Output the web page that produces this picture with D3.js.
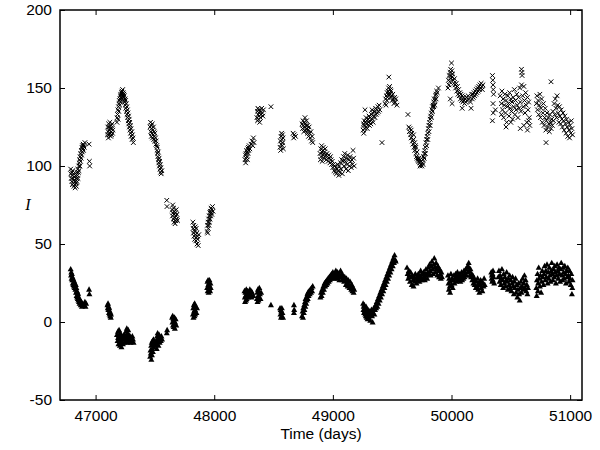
<!DOCTYPE html>
<html><head><meta charset="utf-8">
<script src="https://cdn.jsdelivr.net/npm/d3@7"></script>
<style>body{margin:0;background:#fff}svg{display:block}</style>
</head><body>
<svg id="c" width="600" height="450"></svg>
<script>
const xTicks = [47000, 48000, 49000, 50000, 51000];
const yTicks = [-50, 0, 50, 100, 150, 200];
const xLabel = "Time (days)";
const yLabel = "I";

const crosses = [
[46790,98],[46792,95],[46795,92],[46798,96],[46800,90],[46803,94],[46805,88],[46808,97],[46810,92],[46812,89],[46815,95],[46818,87],[46820,91],[46822,93],[46825,88],[46828,86],[46830,90],[46832,94],[46835,89],[46838,87],[46840,92],[46842,96],[46845,90],[46848,94],[46850,98],[46852,92],[46855,96],[46858,100],[46860,97],[46862,102],
[46865,104],[46868,100],[46870,106],[46873,103],[46875,108],[46878,105],[46880,110],[46882,107],[46885,112],[46888,109],[46890,113],[46893,111],[46895,114],[46898,110],[46900,113],[46905,112],[46910,115],
[46945,114],[46948,103],[46950,100],
[47100,120],[47103,125],[47105,122],[47108,118],[47110,127],[47112,123],[47115,120],[47118,125],[47120,128],[47122,121],[47125,124],[47128,119],[47130,126],[47133,122],[47135,120],[47138,124],[47140,127],[47143,121],[47145,123],
[47180,128],[47182,131],[47185,133],[47188,136],[47190,130],[47193,138],[47195,135],[47198,140],[47200,142],[47203,139],[47205,143],[47208,145],[47210,141],[47212,146],[47215,144],[47218,147],[47220,143],[47222,148],[47225,146],[47228,149],[47230,145],[47232,147],[47235,144],[47238,146],[47240,142],[47243,145],[47245,141],[47248,143],[47250,139],[47253,142],[47255,137],[47258,140],[47260,135],[47263,138],[47265,133],[47268,136],[47270,131],[47273,134],[47275,129],[47278,132],[47280,127],[47283,130],[47285,125],[47288,128],[47290,123],[47293,126],[47295,121],[47298,124],[47300,119],[47305,122],[47308,117],[47310,120],[47315,118],[47318,115],
[47460,125],[47463,128],[47465,122],[47468,126],[47470,119],[47472,124],[47475,121],[47478,127],[47480,118],[47482,123],[47485,120],[47488,125],[47490,117],[47493,122],[47495,119],[47498,116],[47500,121],[47505,118],[47508,114],[47510,116],
[47515,113],[47518,110],[47520,112],[47523,108],[47525,106],[47528,109],[47530,104],[47533,102],[47535,105],[47538,100],[47540,103],[47543,98],[47545,101],[47548,96],[47550,99],[47553,95],[47558,97],
[47600,78],[47602,74],
[47645,72],[47648,68],[47650,75],[47652,70],[47655,66],[47658,73],[47660,69],[47662,64],[47665,71],[47668,67],[47670,63],[47673,70],[47675,65],[47678,68],[47680,72],[47683,66],[47685,69],[47690,65],
[47820,64],[47823,60],[47825,57],[47828,62],[47830,55],[47833,59],[47835,53],[47838,58],[47840,61],[47843,56],[47845,52],[47848,60],[47850,54],[47853,57],[47855,50],[47858,55],[47860,53],[47865,49],[47870,56],
[47940,58],[47943,62],[47945,57],[47948,64],[47950,60],[47953,66],[47955,62],[47958,68],[47960,64],[47963,70],[47965,66],[47968,71],[47970,68],[47973,73],[47975,70],[47978,72],[47980,69],[47985,74],[47990,71],
[48260,104],[48263,107],[48265,102],[48268,108],[48270,105],[48273,110],[48275,106],[48278,109],[48280,104],[48283,111],[48285,108],[48288,112],[48290,110],[48295,113],[48300,111],[48310,114],[48320,116],[48325,113],[48330,118],[48335,115],
[48360,131],[48363,135],[48365,129],[48368,137],[48370,133],[48373,130],[48375,136],[48378,132],[48380,134],[48383,128],[48385,135],[48390,131],[48395,133],[48400,137],[48405,134],[48410,132],[48415,136],
[48478,138],
[48555,112],[48558,116],[48560,110],[48563,119],[48565,114],[48568,121],[48570,117],[48573,113],[48575,120],[48578,115],[48580,118],[48583,111],
[48665,121],[48670,118],[48675,120],[48685,119],
[48740,127],[48745,124],[48748,129],[48750,126],[48755,122],[48758,128],[48760,125],[48765,131],[48768,127],[48770,123],[48775,126],[48778,129],[48780,124],[48785,121],[48788,126],[48790,123],[48795,119],[48800,125],[48805,121],[48810,118],[48815,122],[48820,116],[48825,119],[48830,115],
[48892,108],[48895,104],[48898,111],[48900,106],[48905,113],[48908,109],[48910,103],[48915,110],[48918,107],[48920,112],[48925,105],[48930,109],[48935,111],[48940,107],[48945,104],[48950,108],[48955,106],[48960,103],[48965,107],[48970,105],[48975,102],[48980,106],[48985,104],[48990,101],
[48995,103],[49000,99],[49005,101],[49010,97],[49015,100],[49020,96],[49025,99],[49030,95],[49035,98],[49040,101],[49045,97],[49050,94],[49055,100],[49060,96],[49065,102],[49070,98],[49075,104],[49080,95],
[49085,103],[49090,106],[49095,100],[49100,108],[49105,103],[49110,98],[49115,105],[49120,101],[49125,107],[49130,97],[49135,104],[49140,100],[49145,106],[49150,103],[49155,99],[49160,104],[49165,101],[49170,110],[49175,105],[49180,100],
[49255,123],[49258,127],[49260,121],[49263,126],[49265,129],[49270,124],[49275,128],[49278,125],[49280,131],[49285,127],[49290,124],[49295,130],[49300,128],[49305,132],[49308,126],[49310,129],[49315,131],[49320,127],[49325,133],[49330,130],[49335,134],[49340,128],[49345,132],[49350,135],[49355,131],[49360,137],[49365,133],[49370,136],[49375,134],[49380,138],[49385,135],[49390,139],[49395,136],
[49271,136],[49330,136],[49414,115],
[49440,140],[49445,143],[49448,139],[49450,145],[49455,142],[49458,147],[49460,144],[49465,148],[49468,146],[49470,150],[49472,157],[49475,147],[49478,151],[49480,146],[49485,149],[49488,144],[49490,148],[49495,145],[49500,142],[49505,146],[49510,143],[49515,140],[49520,144],[49525,141],[49530,143],[49540,139],
[49633,133],[49640,125],[49645,122],[49650,124],[49655,120],[49660,118],[49665,121],[49670,116],[49675,114],[49680,117],[49685,112],[49690,110],[49695,113],[49700,108],[49705,106],[49710,109],[49715,104],[49720,103],[49725,105],[49730,102],[49735,104],[49740,101],[49745,103],[49750,100],[49755,102],[49760,104],[49765,106],[49770,108],[49775,110],[49780,112],[49785,115],[49790,117],[49795,119],[49800,121],[49805,124],[49810,126],[49815,128],[49820,130],[49825,132],[49830,134],[49835,136],[49840,138],[49845,139],[49850,141],[49855,143],[49860,142],[49865,145],[49870,146],[49875,148],[49880,147],[49890,150],
[49660,123],[49690,115],[49710,105],[49735,100],[49770,105],[49790,113],[49810,122],[49830,131],[49850,138],[49870,143],[49800,117],[49820,126],[49840,135],[49860,139],[49780,108],[49760,101],[49700,112],[49680,120],
[49970,150],[49975,155],[49978,152],[49980,158],[49985,154],[49988,160],[49990,156],[49993,162],[49995,158],[50000,166],[50003,161],[50005,157],[50010,159],[50015,155],[50020,153],[50025,156],[49990,143],[50005,140],
[50030,152],[50035,150],[50040,153],[50045,148],[50050,151],[50055,146],[50060,149],[50065,145],[50070,147],[50075,143],[50080,146],[50085,142],[50090,145],[50095,141],[50100,144],[50105,142],[50110,140],[50115,143],[50120,141],[50125,144],[50130,142],[50140,145],[50150,143],[50160,141],[50170,146],
[50090,137],[50165,137],
[50175,143],[50180,146],[50185,144],[50190,147],[50195,145],[50200,148],[50205,146],[50210,149],[50215,147],[50220,150],[50225,148],[50230,151],[50235,149],[50240,152],[50245,150],[50250,153],[50255,151],[50260,149],[50265,152],
[50345,158],[50348,155],[50350,152],[50352,149],[50355,146],[50350,140],[50352,134],[50345,129],[50370,136],
[50410,145],[50420,140],[50425,148],[50430,136],[50435,143],[50440,131],[50445,139],[50450,146],[50455,134],[50460,142],[50465,128],[50470,138],[50475,145],[50480,140],[50485,132],[50490,147],[50495,137],[50500,143],[50505,135],[50510,141],[50515,130],[50520,144],[50525,138],[50530,149],[50535,133],[50540,142],[50545,136],[50550,146],[50555,139],[50560,131],[50565,144],[50570,137],[50575,150],[50580,141],[50585,135],[50590,152],[50590,162],[50595,158],[50593,160],[50600,145],[50605,138],[50610,151],[50615,142],[50620,134],[50625,147],[50630,139],[50635,128],[50640,144],[50645,136],[50650,141],[50655,131],[50660,126],[50580,124],[50460,125],
[50610,126],[50640,123],[50500,128],[50420,133],[50650,129],
[50715,140],[50720,145],[50725,136],[50730,142],[50735,133],[50740,139],[50745,146],[50750,131],[50755,137],[50760,143],[50765,128],[50770,134],[50775,140],[50780,126],[50785,131],[50790,137],[50795,123],[50797,115],[50800,129],[50805,134],[50810,125],[50815,131],[50820,127],[50825,122],[50830,133],[50835,128],[50839,154],[50840,124],[50845,130],[50850,126],[50855,135],[50860,129],[50865,140],[50870,133],[50875,143],[50880,137],[50885,131],[50890,145],[50895,139],[50900,134],[50905,128],[50910,138],[50915,132],[50920,127],[50925,136],[50930,130],[50935,125],[50940,134],[50945,129],[50950,123],[50955,132],[50960,127],[50965,121],[50970,130],[50975,125],[50980,119],[50985,128],[50990,123],[50995,118],[51000,126],[51005,121],[51010,129],[51015,124],[51020,120]
];

const triangles = [
[46790,34],[46793,30],[46795,32],[46798,28],[46800,31],[46803,27],[46805,29],[46808,25],[46810,28],[46813,24],[46815,27],[46818,23],[46820,26],[46823,22],[46825,25],
[46830,21],[46833,24],[46835,19],[46838,22],[46840,17],[46843,20],[46845,16],[46848,19],[46850,15],[46853,18],[46855,14],[46858,16],[46860,13],[46863,15],[46865,12],[46870,14],[46875,11],[46880,13],[46885,10],[46890,12],[46900,11],[46910,13],[46915,10],[46920,12],
[46945,21],[46948,18],
[47100,11],[47103,9],[47105,12],[47108,8],[47110,10],[47113,6],[47115,9],[47118,5],[47120,7],[47123,4],[47125,6],[47128,3],[47130,5],
[47180,-8],[47185,-12],[47188,-6],[47190,-10],[47193,-14],[47195,-9],[47198,-5],[47200,-12],[47203,-8],[47205,-15],[47208,-11],[47210,-7],[47213,-13],[47215,-9],[47218,-16],[47220,-12],[47225,-10],[47230,-14],[47235,-11],[47240,-8],[47245,-13],[47250,-10],[47255,-6],[47258,-12],[47260,-9],[47263,-4],[47265,-11],[47268,-7],[47270,-13],[47273,-9],[47275,-5],[47278,-11],[47280,-8],[47285,-12],[47290,-9],[47295,-13],[47300,-10],[47305,-12],[47310,-9],[47315,-11],[47320,-13],
[47460,-22],[47463,-18],[47465,-20],[47468,-15],[47470,-24],[47473,-13],[47475,-21],[47478,-17],[47480,-12],[47483,-19],[47485,-14],[47488,-11],[47490,-16],[47495,-13],[47500,-15],[47510,-12],[47515,-17],[47518,-9],[47520,-14],[47523,-7],[47525,-12],[47528,-10],[47530,-15],[47535,-8],[47540,-13],[47545,-10],[47550,-12],[47555,-9],[47560,-11],
[47600,-7],[47603,-5],
[47645,3],[47648,0],[47650,4],[47653,-2],[47655,2],[47658,-3],[47660,1],[47663,-1],[47665,3],[47668,-4],[47670,0],[47675,2],[47680,-2],
[47820,5],[47823,9],[47825,3],[47828,11],[47830,7],[47833,4],[47835,12],[47838,8],[47840,5],[47845,10],[47850,6],[47855,9],
[47940,22],[47943,26],[47945,20],[47948,27],[47950,24],[47953,19],[47955,25],[47958,21],[47960,27],[47963,23],[47965,20],[47968,25],[47970,22],
[48255,20],[48258,16],[48260,13],[48263,19],[48265,17],[48268,14],[48270,21],[48273,15],[48275,18],[48280,20],[48285,16],[48290,19],[48295,17],[48300,21],[48305,18],[48310,20],[48315,16],[48320,19],[48330,17],[48360,15],[48363,19],[48365,13],[48368,21],[48370,17],[48373,14],[48375,20],[48378,16],[48380,22],[48385,18],[48390,15],[48395,19],
[48478,11],
[48555,9],[48558,5],[48560,8],[48563,3],[48565,7],[48568,4],[48570,9],[48575,6],[48580,3],
[48672,11],[48672,6],[48674,8],
[48740,4],[48745,7],[48748,3],[48750,9],[48755,6],[48758,11],[48760,8],[48765,13],[48768,10],[48770,15],[48775,12],[48778,16],[48780,14],[48785,18],[48788,15],[48790,19],[48795,17],[48800,20],[48805,18],[48810,21],[48815,19],[48820,22],[48825,20],[48830,23],
[48895,16],[48900,19],[48905,17],[48910,21],[48915,19],[48920,23],[48925,21],[48930,25],[48935,23],[48940,26],[48945,24],[48950,27],[48955,25],[48960,28],[48965,26],[48970,29],[48975,27],[48980,30],[48985,28],[48990,31],[48995,29],[49000,32],[49005,30],[49010,28],[49015,31],[49020,29],[49025,33],[49030,30],[49035,28],[49040,32],[49045,29],[49050,31],[49055,27],[49060,30],[49065,33],[49070,29],[49075,31],[49080,27],[49085,30],[49090,28],[49095,26],[49100,29],[49105,27],[49110,24],[49115,28],[49120,25],[49125,23],[49130,27],[49135,24],[49140,22],[49145,26],[49150,23],[49155,21],[49160,24],[49165,20],[49170,22],[49175,19],[49180,21],
[49255,12],[49258,8],[49260,10],[49263,6],[49265,11],[49268,7],[49270,9],[49273,5],[49275,8],[49278,4],[49280,10],[49283,6],[49285,3],[49288,7],[49290,5],[49293,2],[49295,8],[49298,4],[49300,6],[49305,3],[49310,7],[49315,1],[49320,5],[49325,8],[49330,4],[49335,0],[49340,6],[49345,9],[49350,5],
[49355,8],[49360,11],[49365,9],[49370,13],[49375,10],[49380,15],[49385,12],[49390,17],[49395,14],[49400,19],[49405,16],[49410,21],[49415,18],[49420,23],[49425,20],[49430,25],[49435,22],[49440,27],[49445,24],[49450,29],[49455,26],[49460,31],[49465,28],[49470,33],[49475,30],[49480,35],[49485,32],[49490,37],[49495,34],[49500,39],[49505,36],[49510,41],[49515,38],[49520,43],[49525,40],[49530,39],
[49625,35],[49630,31],[49635,28],[49640,33],[49645,30],[49650,26],[49655,32],[49660,29],[49665,24],[49670,30],[49675,27],[49680,23],[49685,29],[49690,26],[49695,31],[49700,28],[49705,25],[49710,29],[49715,27],[49720,31],[49725,28],[49730,26],[49735,30],[49740,33],[49745,29],[49750,27],[49755,31],[49760,28],[49765,32],[49770,29],[49775,27],[49780,31],[49785,34],[49790,30],[49795,28],[49800,32],[49805,35],[49810,31],[49815,37],[49820,33],[49825,30],[49830,36],[49835,39],[49840,34],[49845,31],[49850,37],[49855,41],[49860,35],[49865,32],[49870,38],[49875,34],[49880,30],[49885,36],[49890,33],[49895,29],[49900,34],[49905,31],[49910,28],[49915,32],[49920,29],
[49970,30],[49975,25],[49978,21],[49980,28],[49985,23],[49988,19],[49990,26],[49995,31],[50000,24],[50005,28],[50010,22],[50015,27],[50020,30],[50025,25],[50030,28],[50035,31],[50040,26],[50045,29],[50050,32],[50055,27],[50060,30],[50065,28],[50070,31],[50075,26],[50080,29],[50085,32],[50090,27],[50095,30],[50100,28],[50105,33],[50110,29],[50115,31],[50120,34],[50125,30],[50130,35],[50135,32],[50140,36],[50145,38],[50150,33],[50155,30],[50160,34],[50165,29],[50170,31],[50175,27],[50180,30],[50185,25],[50190,28],[50195,24],[50200,27],[50205,22],[50210,26],[50215,23],[50220,28],[50225,21],[50230,25],[50235,19],[50240,24],[50245,27],[50250,22],[50255,26],[50260,20],[50265,25],[50270,23],[50275,28],[50280,24],
[50335,32],[50338,28],[50340,30],[50343,26],[50345,31],[50348,27],[50350,33],[50355,29],[50360,25],
[50395,29],[50400,33],[50405,26],[50410,30],[50415,24],[50420,28],[50425,34],[50430,27],[50435,22],[50440,31],[50445,25],[50450,29],[50455,23],[50460,27],[50465,32],[50470,26],[50475,21],[50480,28],[50485,24],[50490,30],[50495,22],[50500,27],[50505,20],[50510,25],[50515,29],[50520,23],[50525,18],[50530,26],[50535,22],[50540,28],[50545,19],[50550,24],[50555,16],[50560,21],[50565,25],[50570,18],[50575,14],[50580,22],[50585,26],[50590,19],[50595,23],[50600,28],[50605,21],[50610,25],[50615,30],[50620,22],[50625,27],[50630,20],[50635,24],[50640,18],[50645,22],
[50715,22],[50718,17],[50720,27],[50725,31],[50728,20],[50730,25],[50735,35],[50740,28],[50745,23],[50750,30],[50755,19],[50760,26],[50765,33],[50770,29],[50775,24],[50780,31],[50785,36],[50790,27],[50795,33],[50800,29],[50805,37],[50810,25],[50815,32],[50820,28],[50825,35],[50830,30],[50835,26],[50840,33],[50845,38],[50850,31],[50855,27],[50860,34],[50865,29],[50870,36],[50875,32],[50880,25],[50885,30],[50890,37],[50895,33],[50900,28],[50905,35],[50910,31],[50915,26],[50920,34],[50925,38],[50930,30],[50935,27],[50940,35],[50945,32],[50950,28],[50955,36],[50960,31],[50965,25],[50970,33],[50975,29],[50980,35],[50985,30],[50990,26],[50995,33],[51000,28],[51005,24],[51010,31],[51015,18],[51018,22],[51020,27]
];

const W = 600, H = 450;
const m = {left: 60, right: 18, top: 10, bottom: 50};
const svg = d3.select("#c");
const x = d3.scaleLinear().domain([46700, 51100]).range([m.left, W - m.right]);
const y = d3.scaleLinear().domain([-50, 200]).range([H - m.bottom, m.top]);
const font = "'Liberation Sans', Arial, Helvetica, sans-serif";

const plot = svg.append("g");
plot.selectAll("path.cross").data(crosses).join("path")
  .attr("class", "cross")
  .attr("transform", d => `translate(${x(d[0])},${y(d[1])})`)
  .attr("d", "M-2.3,-2.3L2.3,2.3M-2.3,2.3L2.3,-2.3")
  .attr("stroke", "#000").attr("stroke-width", 1).attr("fill", "none");

plot.selectAll("path.tri").data(triangles).join("path")
  .attr("class", "tri")
  .attr("transform", d => `translate(${x(d[0])},${y(d[1])})`)
  .attr("d", "M0,-3L3,2.4L-3,2.4Z")
  .attr("fill", "#000");

const tk = 5;
const fmt = d => String(d);
const gB = svg.append("g").attr("transform", `translate(0,${H - m.bottom})`)
  .call(d3.axisBottom(x).tickValues(xTicks).tickSizeInner(-tk).tickSizeOuter(0).tickPadding(10).tickFormat(fmt));
const gT = svg.append("g").attr("transform", `translate(0,${m.top})`)
  .call(d3.axisTop(x).tickValues(xTicks).tickSizeInner(-tk).tickSizeOuter(0).tickFormat(""));
const gL = svg.append("g").attr("transform", `translate(${m.left},0)`)
  .call(d3.axisLeft(y).tickValues(yTicks).tickSizeInner(-tk).tickSizeOuter(0).tickPadding(8).tickFormat(fmt));
const gR = svg.append("g").attr("transform", `translate(${W - m.right},0)`)
  .call(d3.axisRight(y).tickValues(yTicks).tickSizeInner(-tk).tickSizeOuter(0).tickFormat(""));
[gB, gT, gL, gR].forEach(g => {
  g.select(".domain").remove();
  g.selectAll(".tick line").attr("stroke", "#000").attr("stroke-width", 1);
  g.selectAll("text").attr("font-family", font).attr("font-size", 15.5).attr("fill", "#000");
});

svg.append("rect")
  .attr("x", m.left).attr("y", m.top)
  .attr("width", W - m.left - m.right).attr("height", H - m.top - m.bottom)
  .attr("fill", "none").attr("stroke", "#000").attr("stroke-width", 1.5);

svg.append("text").attr("x", (m.left + W - m.right) / 2).attr("y", 439)
  .attr("text-anchor", "middle").attr("font-family", font).attr("font-size", 15.5)
  .text(xLabel);
svg.append("text").attr("x", 28).attr("y", 210)
  .attr("text-anchor", "middle").attr("font-family", "'Liberation Serif', 'Times New Roman', serif")
  .attr("font-style", "italic").attr("font-size", 16)
  .text(yLabel);
</script>
</body></html>
